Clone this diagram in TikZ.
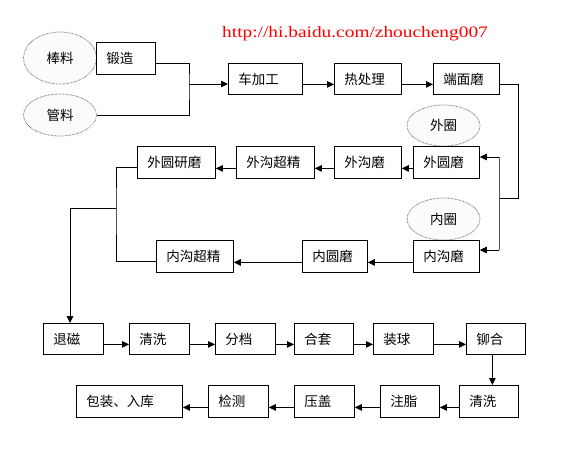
\documentclass[tikz,border=0pt]{standalone}
\usepackage{fontspec}
\newfontfamily\cjk{Noto Sans CJK SC}
\newfontfamily\urlfont{Liberation Serif}
\usetikzlibrary{arrows.meta,shapes.geometric}
\begin{document}
\begin{tikzpicture}[x=1pt,y=-1pt,
  box/.style={draw, line width=0.8pt, fill=white, inner xsep=10pt, inner ysep=0pt, anchor=north west, align=left, font=\cjk\fontsize{13.5}{15}\selectfont},
  oval/.style={ellipse, draw=gray!85!black, dash pattern=on 0.6pt off 0.8pt, line width=0.8pt, fill=gray!3, inner sep=0pt, font=\cjk\fontsize{13.5}{15}\selectfont},
  conn/.style={line width=0.8pt},
  arr/.style={conn, -{Triangle[length=7pt,width=6.5pt]}}]
\fill[white] (0,0) rectangle (561,448);
\useasboundingbox (0,0) rectangle (561,448);

\node[red, anchor=base west, inner sep=0pt, font=\urlfont\fontsize{16}{18}\selectfont] (url) at (222,37) {\scalebox{1.21}[1]{http://hi.baidu.com/zhoucheng007}};

% ovals
\node[oval, minimum width=73pt, minimum height=52pt] (bl) at (60,58) {棒料};
\node[oval, minimum width=73pt, minimum height=42pt] (gl) at (60,115) {管料};
\node[oval, minimum width=73pt, minimum height=41pt] (wq) at (443.5,125.5) {外圈};
\node[oval, minimum width=73pt, minimum height=42pt] (nq) at (443.5,219) {内圈};

% boxes
\node[box, text width=39pt, minimum height=32pt] (duan) at (96,42) {锻造};
\node[box, text width=54pt, minimum height=31pt] (che) at (228,63) {车加工};
\node[box, text width=47pt, minimum height=31pt] (re) at (334,63) {热处理};
\node[box, text width=46pt, minimum height=31pt] (dm) at (433,63) {端面磨};

\node[box, text width=46pt, minimum height=32pt] (wym) at (413,146) {外圆磨};
\node[box, text width=47pt, minimum height=32pt] (wgm) at (334,146) {外沟磨};
\node[box, text width=58pt, minimum height=32pt] (wgc) at (236,146) {外沟超精};
\node[box, text width=58pt, minimum height=32pt] (wyy) at (137,146) {外圆研磨};

\node[box, text width=46pt, minimum height=32pt] (ngm) at (413,240) {内沟磨};
\node[box, text width=45pt, minimum height=32pt] (nym) at (302,240) {内圆磨};
\node[box, text width=57pt, minimum height=32pt] (ngc) at (156,240) {内沟超精};

\node[box, text width=40pt, minimum height=31pt] (tc) at (43,323) {退磁};
\node[box, text width=40pt, minimum height=31pt] (qx1) at (129,323) {清洗};
\node[box, text width=40pt, minimum height=31pt] (fd) at (215,323) {分档};
\node[box, text width=39pt, minimum height=31pt] (ht) at (294,323) {合套};
\node[box, text width=40pt, minimum height=31pt] (zq) at (373,323) {装球};
\node[box, text width=39pt, minimum height=31pt] (mh) at (466,323) {铆合};

\node[box, text width=39pt, minimum height=32pt] (qx2) at (459,385) {清洗};
\node[box, text width=39pt, minimum height=32pt] (zz) at (380,385) {注脂};
\node[box, text width=40pt, minimum height=32pt] (yg) at (294,385) {压盖};
\node[box, text width=40pt, minimum height=32pt] (jc) at (208,385) {检测};
\node[box, text width=86pt, minimum height=32pt] (bz) at (76,385) {包装、入库};

% top merge
\coordinate (jA) at (189,84);
\draw[conn] ([yshift=-5pt]duan.east) -| (jA) |- (gl.east);
\draw[arr] (jA) -- (jA -| che.west);
\draw[arr] ([yshift=-5.5pt]che.east) -- ([yshift=-5.5pt]re.west);
\draw[arr] ([yshift=-5.5pt]re.east) -- ([yshift=-5.5pt]dm.west);

% right split
\coordinate (jB) at (518,198);
\coordinate (jR) at (499,198);
\coordinate (jR1) at (499,157);
\coordinate (jR2) at (499,250);
\draw[conn] ([yshift=-5.5pt]dm.east) -| (jB) -- (jR);
\draw[conn, gray!70!black] (jR1) -- (jR2);
\draw[arr] (jR1) -- (jR1 -| wym.east);
\draw[arr] (jR2) -- (jR2 -| ngm.east);

% outer row
\draw[arr] ([yshift=-6pt]wym.west) -- ([yshift=-6pt]wgm.east);
\draw[arr] ([yshift=-6pt]wgm.west) -- ([yshift=-6pt]wgc.east);
\draw[arr] ([yshift=-6pt]wgc.west) -- ([yshift=-6pt]wyy.east);

% inner row
\draw[arr] ([yshift=-6pt]ngm.west) -- ([yshift=-6pt]nym.east);
\draw[arr] ([yshift=-6pt]nym.west) -- ([yshift=-6pt]ngc.east);

% left merge
\coordinate (jL) at (116,208);
\coordinate (jL2) at (70,208);
\draw[conn] ([yshift=-5pt]wyy.west) -| (jL) |- ([yshift=-5pt]ngc.west);
\draw[conn] (jL) -- (jL2);
\draw[arr] (jL2) -- (jL2 |- tc.north);

% row 3
\draw[arr] ([yshift=-5.5pt]tc.east) -- ([yshift=-5.5pt]qx1.west);
\draw[arr] ([yshift=-5.5pt]qx1.east) -- ([yshift=-5.5pt]fd.west);
\draw[arr] ([yshift=-5.5pt]fd.east) -- ([yshift=-5.5pt]ht.west);
\draw[arr] ([yshift=-5.5pt]ht.east) -- ([yshift=-5.5pt]zq.west);
\draw[arr] ([yshift=-5.5pt]zq.east) -- ([yshift=-5.5pt]mh.west);
\draw[arr] ([xshift=-3.5pt]mh.south) -- ([xshift=-3.5pt]mh.south |- qx2.north);

% row 4
\draw[arr] ([yshift=-6pt]qx2.west) -- ([yshift=-6pt]zz.east);
\draw[arr] ([yshift=-6pt]zz.west) -- ([yshift=-6pt]yg.east);
\draw[arr] ([yshift=-6pt]yg.west) -- ([yshift=-6pt]jc.east);
\draw[arr] ([yshift=-6pt]jc.west) -- ([yshift=-6pt]bz.east);
\end{tikzpicture}
\end{document}
